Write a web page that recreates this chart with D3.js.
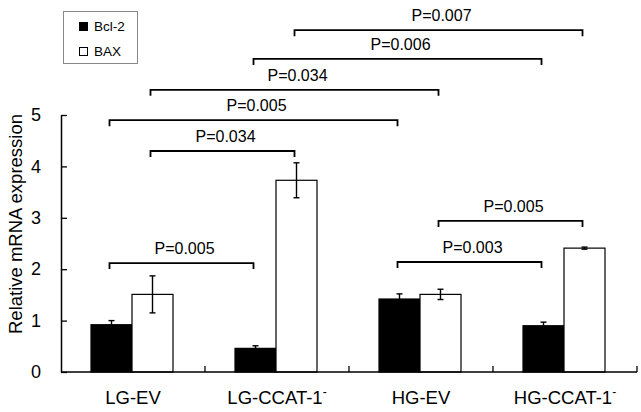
<!DOCTYPE html>
<html>
<head>
<meta charset="utf-8">
<script src="https://cdn.jsdelivr.net/npm/d3@7"></script>
<style>
  html, body { margin: 0; padding: 0; background: #fff; }
  svg { display: block; font-family: "Liberation Sans", Arial, Helvetica, sans-serif; }
</style>
</head>
<body>
<svg id="chart" width="641" height="412"></svg>
<script>
// ---- data ----
const categories = ["LG-EV", "LG-CCAT-1", "HG-EV", "HG-CCAT-1"];
const categorySup = ["", "-", "", "-"];
const seriesNames = ["Bcl-2", "BAX"];
const bcl2Values = [0.92, 0.46, 1.42, 0.90];
const bcl2Errors = [0.08, 0.05, 0.10, 0.07];
const baxValues  = [1.51, 3.73, 1.51, 2.41];
const baxErrors  = [0.36, 0.34, 0.10, 0.02];
const yTicks = [0, 1, 2, 3, 4, 5];
// comparisons: [category index, series index] -> [category index, series index], bracket level (data units), label
const compFrom   = [[0,0],[0,1],[0,0],[0,1],[1,0],[1,1],[2,0],[2,1]];
const compTo     = [[1,0],[1,1],[2,0],[2,1],[3,0],[3,1],[3,0],[3,1]];
const compLevel  = [2.12, 4.30, 4.90, 5.49, 6.09, 6.65, 2.14, 2.94];
const compLabels = ["P=0.005","P=0.034","P=0.005","P=0.034","P=0.006","P=0.007","P=0.003","P=0.005"];

const colors = ["#000000", "#ffffff"];
const seriesValues = [bcl2Values, baxValues];
const seriesErrors = [bcl2Errors, baxErrors];

const svg = d3.select("#chart");

const x = d3.scaleBand().domain(categories).range([61, 637]).paddingInner(0).paddingOuter(0);
const xs = d3.scaleBand().domain(seriesNames).range([30, 112]);
const y = d3.scaleLinear().domain([0, 5]).range([372, 115]);

const barX = (ci, si) => x(categories[ci]) + xs(seriesNames[si]);
const barCenter = (ci, si) => barX(ci, si) + xs.bandwidth() / 2;

// bars
seriesNames.forEach((s, si) => {
  const g = svg.append("g");
  g.selectAll("rect").data(seriesValues[si]).join("rect")
    .attr("x", (d, i) => barX(i, si))
    .attr("y", d => y(d))
    .attr("width", xs.bandwidth())
    .attr("height", d => y(0) - y(d))
    .attr("fill", colors[si])
    .attr("stroke", "#000")
    .attr("stroke-width", 1.2);
  // error bars
  const eg = svg.append("g").attr("stroke", "#000").attr("stroke-width", 1.4);
  seriesValues[si].forEach((v, i) => {
    const cx = barCenter(i, si);
    const e = seriesErrors[si][i];
    const lo = si === 0 ? v : v - e;
    eg.append("line").attr("x1", cx).attr("x2", cx).attr("y1", y(v + e)).attr("y2", y(lo));
    eg.append("line").attr("x1", cx - 3).attr("x2", cx + 3).attr("y1", y(v + e)).attr("y2", y(v + e));
    if (si === 1) eg.append("line").attr("x1", cx - 3).attr("x2", cx + 3).attr("y1", y(v - e)).attr("y2", y(v - e));
  });
});

// y axis
const yAxis = d3.axisLeft(y).tickValues(yTicks).tickSizeInner(-6).tickSizeOuter(0).tickPadding(20).tickFormat(d3.format("d"));
const ya = svg.append("g").attr("transform", "translate(61,0)").call(yAxis);
ya.select(".domain").attr("stroke", "#000").attr("stroke-width", 1.5);
ya.selectAll(".tick line").attr("stroke", "#000").attr("stroke-width", 1.3);
ya.selectAll(".tick text").attr("font-size", 18).attr("fill", "#000").attr("font-family", "Liberation Sans, Arial, sans-serif");

// x axis
const xa = svg.append("g").attr("transform", `translate(0,${y(0)})`);
xa.append("line").attr("x1", 61).attr("x2", 637).attr("y1", 0).attr("y2", 0).attr("stroke", "#000").attr("stroke-width", 1.5);
const boundaries = categories.map(c => x(c)).concat([x.range()[1]]);
xa.selectAll(".xt").data(boundaries.slice(1)).join("line")
  .attr("x1", d => d).attr("x2", d => d).attr("y1", 0).attr("y2", -6)
  .attr("stroke", "#000").attr("stroke-width", 1.3);
const xl = xa.selectAll(".xl").data(categories).join("text")
  .attr("x", d => x(d) + x.bandwidth() / 2)
  .attr("y", 32)
  .attr("text-anchor", "middle")
  .attr("font-size", 18.5)
  .attr("fill", "#000");
xl.each(function(d, i) {
  const t = d3.select(this);
  t.append("tspan").text(d);
  if (categorySup[i]) t.append("tspan").attr("dy", -8).attr("font-size", 12).text(categorySup[i]);
});

// y label
svg.append("text")
  .attr("transform", `translate(22,224) rotate(-90)`)
  .attr("text-anchor", "middle")
  .attr("font-size", 18.5)
  .attr("fill", "#000")
  .text("Relative mRNA expression");

// brackets
const bg = svg.append("g");
compLabels.forEach((lab, k) => {
  const x1 = barCenter(compFrom[k][0], compFrom[k][1]) - 2;
  const x2 = barCenter(compTo[k][0], compTo[k][1]) - 2;
  const yy = y(compLevel[k]);
  bg.append("path")
    .attr("d", `M${x1},${yy + 6}V${yy}H${x2}V${yy + 6}`)
    .attr("fill", "none").attr("stroke", "#000").attr("stroke-width", 1.8);
  bg.append("text")
    .attr("x", (x1 + x2) / 2 + 3)
    .attr("y", yy - 9)
    .attr("text-anchor", "middle")
    .attr("font-size", 16)
    .attr("fill", "#000")
    .text(lab);
});

// legend
const lg = svg.append("g");
lg.append("rect").attr("x", 63.5).attr("y", 11.5).attr("width", 74).attr("height", 52)
  .attr("fill", "#fff").attr("stroke", "#888").attr("stroke-width", 1);
seriesNames.forEach((s, si) => {
  lg.append("rect").attr("x", 79.5).attr("y", 22.5 + si * 25).attr("width", 8).attr("height", 8)
    .attr("fill", colors[si]).attr("stroke", "#000").attr("stroke-width", 1);
  lg.append("text").attr("x", 94).attr("y", 31 + si * 25).attr("font-size", 13.5).attr("fill", "#000").text(s);
});
</script>
</body>
</html>
